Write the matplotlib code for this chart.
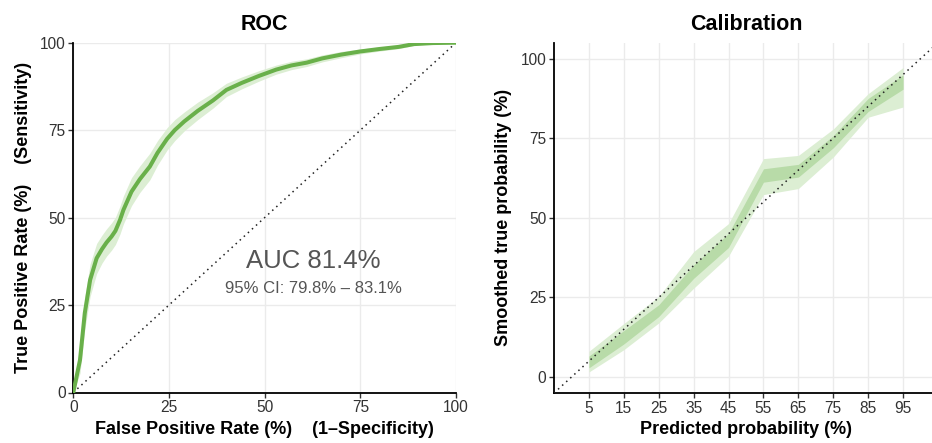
import matplotlib
matplotlib.use("Agg")
import matplotlib.pyplot as plt
import numpy as np

plt.rcParams['font.family'] = ['Liberation Sans', 'DejaVu Sans']

# ---------------- ROC data ----------------
roc_fpr = [0, 1.75, 3.0, 4.4, 6.1, 7.5, 8.7, 10.0, 11.0, 12.2, 13.1, 15.2, 17.4, 20.0, 22.0, 24.5, 26.5,
           29.0, 32.5, 36.5, 40.0, 44.0, 48.5, 53.0, 57.0, 61.0, 65.0, 70.0, 75.0,
           80.0, 85.0, 89.0, 94.0, 100.0]
roc_tpr = [0, 9.3, 22.7, 32.2, 38.4, 41.0, 42.9, 44.6, 46.2, 49.3, 52.2, 57.4, 61.0, 64.6, 68.5, 72.5, 75.0,
           77.5, 80.5, 83.5, 86.5, 88.5, 90.5, 92.3, 93.5, 94.3, 95.5, 96.6, 97.5,
           98.2, 98.8, 99.6, 99.9, 100.0]
roc_tpr_lo = [0, 5.5, 18.0, 27.5, 34.0, 37.0, 39.0, 40.7, 42.3, 45.3, 48.2, 53.4, 57.2, 60.8, 65.0, 69.3, 72.0,
              74.8, 78.0, 81.3, 84.6, 86.8, 89.0, 91.0, 92.3, 93.2, 94.5, 95.7, 96.8,
              97.6, 98.3, 99.2, 99.7, 100.0]
roc_tpr_hi = [0, 13.5, 27.5, 36.8, 42.6, 45.0, 46.8, 48.5, 50.1, 53.3, 56.2, 61.4, 64.8, 68.4, 72.0, 75.7, 78.0,
              80.2, 83.0, 85.7, 88.4, 90.2, 92.0, 93.6, 94.7, 95.4, 96.5, 97.5, 98.2,
              98.8, 99.3, 99.9, 100.0, 100.0]
auc_text = "AUC 81.4%"
ci_text = "95% CI: 79.8% \u2013 83.1%"

# ---------------- Calibration data ----------------
cal_pred = [5, 15, 25, 35, 45, 55, 65, 75, 85, 95]
cal_light_lo = [1.6, 8.6, 17.0, 27.9, 38.0, 57.3, 59.2, 69.1, 81.6, 84.8]
cal_light_hi = [8.1, 16.8, 25.3, 39.4, 48.2, 68.6, 69.6, 77.9, 89.0, 97.2]
cal_dark_lo = [2.9, 10.4, 19.0, 31.0, 40.7, 61.2, 62.8, 72.0, 83.4, 90.4]
cal_dark_hi = [6.6, 14.6, 22.7, 35.2, 45.1, 65.4, 66.8, 75.8, 87.5, 94.9]
cal_xticks = [5, 15, 25, 35, 45, 55, 65, 75, 85, 95]
yticks = [0, 25, 50, 75, 100]

GREEN = "#69B04A"
LIGHT = "#DCEED3"
DARK = "#B8DBA8"
GRID = "#EBEBEB"
TICK_COL = "#333333"

fig = plt.figure(figsize=(9.32, 4.43), dpi=100)
W, H = 932, 443

def add_ax(l, r, b, t):
    return fig.add_axes([l / W, (H - b) / H, (r - l) / W, (b - t) / H])

def style(ax):
    for s in ['top', 'right']:
        ax.spines[s].set_visible(False)
    for s in ['left', 'bottom']:
        ax.spines[s].set_linewidth(1.3)
        ax.spines[s].set_color('black')
    ax.tick_params(axis='both', which='major', labelsize=11.2, colors=TICK_COL,
                   length=3.5, width=1.0, pad=2)
    ax.grid(True, color=GRID, linewidth=1.0)
    ax.set_axisbelow(True)

# ROC panel
ax1 = add_ax(73.3, 456, 392.5, 42.7)
style(ax1)
ax1.set_xlim(0, 100)
ax1.set_ylim(0, 100)
ax1.set_xticks(yticks)
ax1.set_yticks(yticks)
ax1.fill_between(roc_fpr, roc_tpr_lo, roc_tpr_hi, color=LIGHT, lw=0, zorder=2)
ax1.plot(roc_fpr, roc_tpr, color=GREEN, lw=2.9, solid_capstyle='round',
         solid_joinstyle='round', zorder=3)
ax1.plot([0, 100], [0, 100], color='#222222', lw=1.1, ls=(0, (1, 2.6)), zorder=2)
ax1.text(62.7, 37.5, auc_text, ha='center', va='center', fontsize=18.5, color='#555555')
ax1.text(62.7, 29.8, ci_text, ha='center', va='center', fontsize=12, color='#555555')
ax1.set_title("ROC", fontsize=15.5, fontweight='bold', pad=9)
ax1.set_xlabel("False Positive Rate (%)    (1\u2013Specificity)", fontsize=13,
               fontweight='bold', labelpad=4)
ax1.set_ylabel("True Positive Rate (%)    (Sensitivity)", fontsize=13,
               fontweight='bold', labelpad=6)

# Calibration panel
ax2 = add_ax(554, 938, 393, 42.7)
style(ax2)
ax2.set_xlim(-5, 105)
ax2.set_ylim(-5, 105)
ax2.set_xticks(cal_xticks)
ax2.set_yticks(yticks)
ax2.fill_between(cal_pred, cal_light_lo, cal_light_hi, color=LIGHT, lw=0, zorder=2)
ax2.fill_between(cal_pred, cal_dark_lo, cal_dark_hi, color=DARK, lw=0, zorder=2)
ax2.plot([-5, 105], [-5, 105], color='#222222', lw=1.1, ls=(0, (1, 2.6)), zorder=3)
ax2.set_title("Calibration", fontsize=15.5, fontweight='bold', pad=9)
ax2.set_xlabel("Predicted probability (%)", fontsize=13, fontweight='bold', labelpad=4)
ax2.set_ylabel("Smoothed true probability (%)", fontsize=13, fontweight='bold', labelpad=6)

fig.savefig("out.png", dpi=100)
